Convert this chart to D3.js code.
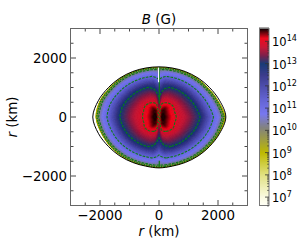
<!DOCTYPE html>
<html><head><meta charset="utf-8">
<script src="https://cdn.jsdelivr.net/npm/d3@7"></script>
<style>html,body{margin:0;padding:0;background:#fff}svg{display:block}text{font-family:"DejaVu Sans";fill:#000}</style>
</head><body><svg id="c" width="300" height="250"></svg>
<script>
// --- data ---
const outlineAngles = [0,15,30,45,60,75,90,105,120,135,150,165,180,195,210,225,240,255,270,285,300,315,330,345];
const outlineRadius = [1700,1720,1780,1870,1985,2130,2265,2130,1985,1870,1780,1725,1725,1725,1780,1870,1985,2130,2245,2130,1985,1870,1780,1720];
const fieldRadius   = [1690,1712,1768,1848,1945,2085,2250,2120,1975,1860,1770,1718,1720,1718,1768,1848,1945,2045,2150,2085,1955,1855,1770,1712];
const tableAngles = [0,4,10,20,35,50,70,90];
const tableFractions = [0,.04,.08,.14,.2,.28,.4,.5,.62,.72,.82,.9,.94,.97,1];
const logB = [
 [13.6,13.5,13.4,13.35,13.25,13.15,13.0,12.6,12.0,11.2,10.8,10.5,10.2,9.7,8.8],
 [13.65,13.65,13.6,13.55,13.5,13.45,13.2,12.9,12.3,11.5,10.9,10.6,10.3,9.7,8.8],
 [13.7,13.8,14.0,14.1,14.1,13.95,13.6,13.25,12.8,11.9,11.1,10.7,10.35,9.7,8.8],
 [13.7,14.0,14.3,14.45,14.3,14.05,13.72,13.38,13.0,12.0,11.1,10.7,10.35,9.7,8.8],
 [13.7,14.2,14.45,14.55,14.45,14.12,13.75,13.38,13.0,12.0,11.1,10.7,10.35,9.7,8.8],
 [13.7,14.35,14.6,14.5,14.3,14.12,13.77,13.38,13.0,12.0,11.1,10.7,10.35,9.7,8.8],
 [13.7,14.55,14.6,14.38,14.17,13.98,13.7,13.35,13.0,12.0,11.1,10.7,10.35,9.7,8.8],
 [13.7,14.6,14.6,14.35,14.15,13.95,13.7,13.35,13.0,12.0,11.1,10.7,10.35,9.7,8.8]
];
const contourLevels = [14,13,11.1,10.1,9.4];
const seamGreen = [[1690,450],[-1480,-1660]];
const seamWhite = [1690,1180];
const colorLevels = [6.6,7,8,9,10.15,10.75,11.4,12.5,13,13.4,13.75,14.15,14.6];
const colorValues = ["#fffff8","#fbfbe2","#e1e182","#bdb900","#828282","#7878f0","#6464d2","#3c3c8c","#193c78","#82204a","#c81937","#f00a1e","#000000"];
const ticksMajor = [-2000,0,2000];
const ticksMinor = [-2500,-1500,-1000,-500,500,1000,1500,2500];
const barExponents = [7,8,9,10,11,12,13,14];
const barMinorFactors = [2,3,4,5,6,7,8,9];
const barDomain = [6.6,14.6];

// --- scales ---
const svg = d3.select("#c");
const defs = svg.append("defs");
const x = d3.scaleLinear().domain([-3000,3000]).range([70.5,247.5]);
const y = d3.scaleLinear().domain([-3000,3000]).range([205.5,28.5]);
const kmPx = d3.scaleLinear().domain([0,3000]).range([0,88.5]);
const color = d3.scaleLinear().domain(colorLevels).range(colorValues).interpolate(d3.interpolateRgb).clamp(true);
const barY = d3.scaleLinear().domain(barDomain).range([206,28]);

// --- field on a pixel grid, looked up in the table ---
function lookup(axis, v){
  let i = d3.bisectRight(axis, v) - 1;
  i = Math.max(0, Math.min(axis.length - 2, i));
  return [i, Math.max(0, Math.min(1, (v - axis[i]) / (axis[i+1] - axis[i])))];
}
function radiusAt(deg){
  const a = (deg + 360) % 360;
  const [i,t] = lookup(outlineAngles.concat([360]), a);
  const arr = fieldRadius.concat([fieldRadius[0]]);
  return arr[i] + (arr[i+1] - arr[i]) * t;
}
function field(km, kz){
  const r = Math.hypot(km, kz);
  const deg = Math.atan2(km, kz) * 180 / Math.PI;
  const folded = Math.min(Math.abs(deg), 180 - Math.abs(deg));
  const f = Math.min(1, r / radiusAt(deg));
  const [a,ta] = lookup(tableAngles, folded);
  const [b,tb] = lookup(tableFractions, f);
  const v0 = logB[a][b] + (logB[a][b+1] - logB[a][b]) * tb;
  const v1 = logB[a+1][b] + (logB[a+1][b+1] - logB[a+1][b]) * tb;
  return v0 + (v1 - v0) * ta;
}
const n = 354;
const toKm = d3.scaleLinear().domain([0,n-1]).range([-3000,3000]);
const grid = new Float64Array(n*n);
for(let j=0;j<n;j++) for(let i=0;i<n;i++) grid[j*n+i] = field(toKm(i), toKm(n-1-j));

const proj = d3.geoTransform({point(px,py){
  this.stream.point(x(toKm(px-0.5)), y(toKm(n-1-(py-0.5))));
}});
const gp = d3.geoPath(proj);

// --- surface shapes ---
const radial = d3.lineRadial().curve(d3.curveCatmullRomClosed.alpha(0.5))
  .angle(d => d[0] * Math.PI / 180).radius(d => kmPx(d[1]));
const outlinePts = d3.zip(outlineAngles, outlineRadius);
const fieldPts = d3.zip(outlineAngles, fieldRadius);
defs.append("clipPath").attr("id","surf").append("path")
  .attr("transform",`translate(${x(0)},${y(0)})`).attr("d",radial(fieldPts));

const g = svg.append("g").attr("clip-path","url(#surf)");
g.append("rect").attr("x",x(-3000)).attr("y",y(3000)).attr("width",177).attr("height",177).attr("fill",color(8.8));
const bands = d3.range(8.8,14.61,0.05);
g.selectAll("path.b").data(d3.contours().size([n,n]).thresholds(bands)(grid)).join("path")
  .attr("class","b").attr("d",gp).attr("fill",d=>color(d.value)).attr("stroke",d=>color(d.value)).attr("stroke-width",0.3);
g.selectAll("path.l").data(d3.contours().size([n,n]).thresholds(contourLevels)(grid)).join("path")
  .attr("class","l").attr("d",gp).attr("fill","none").attr("stroke","#0c7a18")
  .attr("stroke-width",d=>d.value<9.5?1.4:1.1).attr("stroke-dasharray",d=>d.value<9.5?"1.5,1":"2.6,1.2");

// seams on the axis
seamGreen.forEach(s=>{
  svg.append("line").attr("x1",x(10)).attr("x2",x(10)).attr("y1",y(s[0])).attr("y2",y(s[1]))
    .attr("stroke","#0c7a18").attr("stroke-width",1.2);
});
svg.append("line").attr("x1",x(-14)).attr("x2",x(-14)).attr("y1",y(seamWhite[0])).attr("y2",y(seamWhite[1]))
  .attr("stroke","#fff").attr("stroke-width",1.1);

svg.append("path").attr("transform",`translate(${x(0)},${y(0)})`).attr("d",radial(outlinePts))
  .attr("fill","none").attr("stroke","#000").attr("stroke-width",1);

// --- frame and ticks ---
const frame = svg.append("g");
const tickCol = "#333";
function ticks(list,len){
  list.forEach(v=>{
    [[x(v),205.5,x(v),205.5-len],[x(v),28.5,x(v),28.5+len],[70.5,y(v),70.5+len,y(v)],[247.5,y(v),247.5-len,y(v)]].forEach(a=>{
      frame.append("line").attr("x1",a[0]).attr("y1",a[1]).attr("x2",a[2]).attr("y2",a[3]).attr("stroke",tickCol).attr("stroke-width",0.9);
    });
  });
}
ticks(ticksMajor,5.5); ticks(ticksMinor,3);
frame.append("rect").attr("x",70.5).attr("y",28.5).attr("width",177).attr("height",177).attr("fill","none").attr("stroke","#666").attr("stroke-width",1);
const fmt = v => (v<0?"\u2212":"") + Math.abs(v);
ticksMajor.forEach(v=>{
  svg.append("text").attr("x",x(v)).attr("y",219.5).attr("text-anchor","middle").attr("font-size",13.4).text(fmt(v));
  svg.append("text").attr("x",67).attr("y",y(v)+5).attr("text-anchor","end").attr("font-size",13.4).text(fmt(v));
});
function rLabel(t){ t.append("tspan").attr("font-style","italic").text("r"); t.append("tspan").text(" (km)"); }
rLabel(svg.append("text").attr("x",159).attr("y",235.5).attr("text-anchor","middle").attr("font-size",13.4));
rLabel(svg.append("text").attr("transform","translate(16.5,117) rotate(-90)").attr("text-anchor","middle").attr("font-size",13.4));
const title = svg.append("text").attr("x",159).attr("y",24).attr("text-anchor","middle").attr("font-size",13.4);
title.append("tspan").attr("font-style","italic").text("B"); title.append("tspan").text(" (G)");

// --- colour bar ---
const cb = svg.append("g");
cb.selectAll("rect").data(d3.range(barDomain[0],barDomain[1],0.045)).join("rect")
  .attr("x",259).attr("width",10).attr("y",d=>barY(d+0.05)).attr("height",d=>barY(d)-barY(d+0.05)+0.3).attr("fill",d=>color(d+0.02));
cb.append("rect").attr("x",259.5).attr("y",28.5).attr("width",9.5).attr("height",177).attr("fill","none").attr("stroke","#777").attr("stroke-width",1);
barExponents.forEach(e=>{
  cb.append("line").attr("x1",265).attr("x2",269).attr("y1",barY(e)).attr("y2",barY(e)).attr("stroke","#333").attr("stroke-width",0.8);
  const t = svg.append("text").attr("x",272).attr("y",barY(e)+5).attr("font-size",11.5);
  t.append("tspan").text("10");
  t.append("tspan").attr("dy",-5).attr("font-size",8).text(e);
});
d3.range(6,15).forEach(e=>barMinorFactors.forEach(m=>{
  const v = e + Math.log10(m);
  if(v>barDomain[0] && v<barDomain[1])
    cb.append("line").attr("x1",267).attr("x2",269).attr("y1",barY(v)).attr("y2",barY(v)).attr("stroke","#333").attr("stroke-width",0.6);
}));
</script></body></html>
